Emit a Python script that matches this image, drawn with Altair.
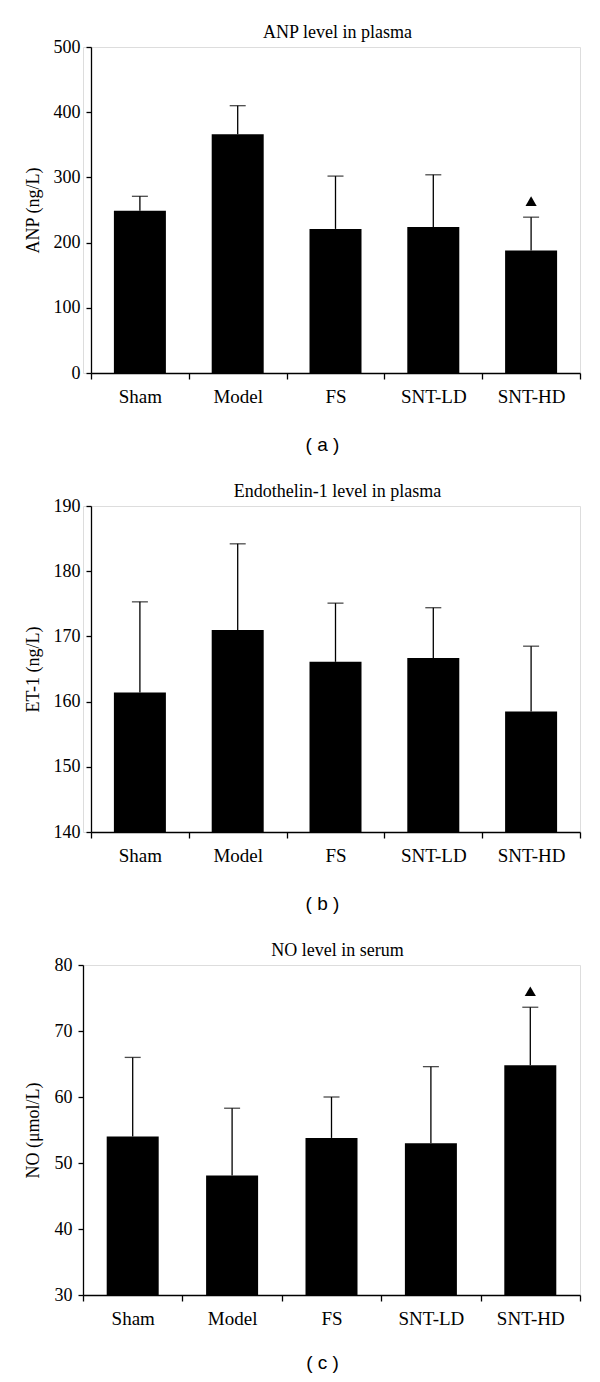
import altair as alt
import pandas as pd

groups = ["Sham", "Model", "FS", "SNT-LD", "SNT-HD"]

anp_mean = [249, 366, 221, 224, 188]
anp_upper = [271, 410, 302, 304, 239]
anp_mark = [False, False, False, False, True]

et1_mean = [161.4, 171.0, 166.1, 166.7, 158.5]
et1_upper = [175.3, 184.2, 175.1, 174.4, 168.5]
et1_mark = [False, False, False, False, False]

no_mean = [54.0, 48.1, 53.8, 53.0, 64.8]
no_upper = [66.0, 58.3, 60.0, 64.6, 73.6]
no_mark = [False, False, False, False, True]

SERIF = "Liberation Serif"
SANS = "Liberation Sans"

W = 497
panels = [
    dict(title="ANP level in plasma", ytitle="ANP (ng/L)", domain=[0, 500],
         ticks=[0, 100, 200, 300, 400, 500], mean=anp_mean, upper=anp_upper,
         mark=anp_mark, sub="( a )", h=326, inset=8, xty=71),
    dict(title="Endothelin-1 level in plasma", ytitle="ET-1 (ng/L)", domain=[140, 190],
         ticks=[140, 150, 160, 170, 180, 190], mean=et1_mean, upper=et1_upper,
         mark=et1_mark, sub="( b )", h=326, inset=8, xty=71),
    dict(title="NO level in serum", ytitle="NO (\u03bcmol/L)", domain=[30, 80],
         ticks=[30, 40, 50, 60, 70, 80], mean=no_mean, upper=no_upper,
         mark=no_mark, sub="( c )", h=330, inset=0, xty=67),
]


def make_panel(p):
    df = pd.DataFrame({
        "group": groups,
        "mean": p["mean"],
        "upper": p["upper"],
        "base": [p["domain"][0]] * len(groups),
        "mark": p["mark"],
    })
    inset = p["inset"]
    x = alt.X(
        "group:N", sort=groups,
        scale=alt.Scale(paddingInner=0, paddingOuter=0, range=[inset, W]),
        axis=alt.Axis(
            title=p["sub"], labelAngle=0, tickBand="extent", tickSize=6,
            labelFont=SERIF, labelFontSize=19, labelPadding=8, labelColor="black",
            titleFont=SANS, titleFontSize=19, titleFontWeight="normal", titleColor="black",
            titleX=239, titleY=p["xty"], titleBaseline="middle", titleAlign="center",
            domainColor="black", tickColor="black", domainWidth=1.3, tickWidth=1.3,
        ),
    )
    y = alt.Y(
        "mean:Q",
        scale=alt.Scale(domain=p["domain"], zero=False, nice=False),
        axis=alt.Axis(
            title=p["ytitle"], values=p["ticks"], grid=False, tickSize=5, offset=-inset,
            labelFont=SERIF, labelFontSize=18, labelPadding=6, labelColor="black",
            titleFont=SERIF, titleFontSize=18, titleFontWeight="normal", titleColor="black",
            titleX=-58 if inset else -50, titleBaseline="middle",
            domainColor="black", tickColor="black", domainWidth=1.3, tickWidth=1.3,
        ),
    )
    base = alt.Chart(df)
    bars = base.mark_bar(size=52, color="black").encode(x=x, y=y, y2="base:Q")
    err = base.mark_rule(color="black", strokeWidth=1.3).encode(x=x, y="mean:Q", y2="upper:Q")
    cap = base.mark_tick(color="black", size=16, thickness=1.3).encode(x=x, y="upper:Q")
    layers = [bars, err, cap]
    if any(p["mark"]):
        tri = base.transform_filter("datum.mark").mark_point(
            shape="triangle-up", filled=True, size=125, color="black", opacity=1, yOffset=-16
        ).encode(x=x, y="upper:Q")
        layers.append(tri)
    return alt.layer(*layers).properties(
        width=W, height=p["h"],
        title=alt.TitleParams(p["title"], font=SERIF, fontSize=18, fontWeight="normal",
                              color="black", anchor="middle", baseline="alphabetic",
                              offset=-18, dx=6),
    )


chart = alt.concat(*[make_panel(p) for p in panels], columns=1, spacing=27).properties(
    padding={"left": 15, "top": 15, "right": 5, "bottom": 5}
).configure_view(stroke=None).configure(background="white")

chart.save("out.html", embed_options={"renderer": "svg", "actions": False})
